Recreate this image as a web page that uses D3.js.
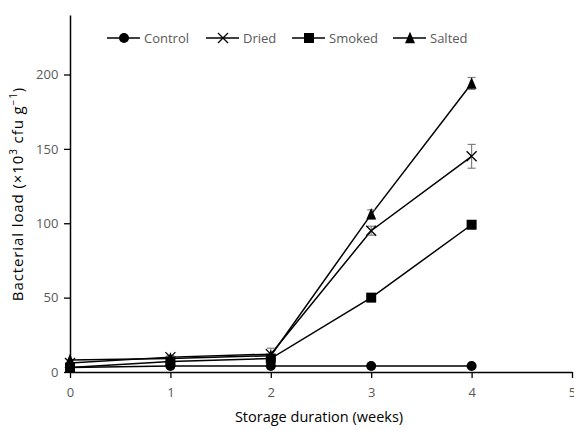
<!DOCTYPE html>
<html>
<head>
<meta charset="utf-8">
<script src="https://cdn.jsdelivr.net/npm/d3@7"></script>
<style>
  body { margin: 0; background: #fff; }
  svg { display: block; font-family: "Open Sans", sans-serif; }
</style>
</head>
<body>
<svg id="chart" width="574" height="430"></svg>
<script>
// data
const weeks = [0, 1, 2, 3, 4];
const seriesNames = ["Control", "Dried", "Smoked", "Salted"];
const controlVals = [3, 4, 4, 4, 4];
const driedVals = [6, 10, 12, 95, 145];
const smokedVals = [3, 7, 9, 50, 99];
const saltedVals = [8, 9, 11, 106, 194];
const driedErr = [0, 1, 4, 3, 8];
const saltedErr = [0, 1, 1, 3, 4];
const zeroErr = [0, 0, 0, 0, 0];
const xTicks = [0, 1, 2, 3, 4, 5];
const yTicks = [0, 50, 100, 150, 200];

const series = [
  {name: "Control", vals: controlVals, err: zeroErr, sym: "circle"},
  {name: "Dried", vals: driedVals, err: driedErr, sym: "cross"},
  {name: "Smoked", vals: smokedVals, err: zeroErr, sym: "square"},
  {name: "Salted", vals: saltedVals, err: saltedErr, sym: "triangle"}
];

const svg = d3.select("#chart");
const mLeft = 70, mRight = 572, mTop = 15, mBottom = 372;

const x = d3.scaleLinear().domain([0, 5]).range([mLeft, mRight]);
const y = d3.scaleLinear().domain([0, 240]).range([mBottom, mTop]);

// axes
const xAxis = svg.append("g")
    .attr("transform", `translate(0,${mBottom})`)
    .call(d3.axisBottom(x).tickValues(xTicks).tickFormat(d3.format("d")).tickSize(6).tickSizeOuter(0));
const yAxis = svg.append("g")
    .attr("transform", `translate(${mLeft},0)`)
    .call(d3.axisLeft(y).tickValues(yTicks).tickFormat(d3.format("d")).tickSize(6).tickSizeOuter(0));

[xAxis, yAxis].forEach(a => {
    a.select(".domain").attr("stroke", "#000").attr("stroke-width", 1.5);
    a.selectAll(".tick line").attr("stroke", "#000").attr("stroke-width", 1.3);
    a.selectAll(".tick text").attr("fill", "#595959")
        .attr("font-size", 13).attr("font-family", "Open Sans, sans-serif");
});
xAxis.selectAll(".tick text").attr("dy", "1.2em");
yAxis.selectAll(".tick text").attr("dx", "-0.2em");

function drawMarker(g, sym, cx, cy, size) {
    if (sym === "circle") {
        g.append("circle").attr("cx", cx).attr("cy", cy).attr("r", size * 0.5).attr("fill", "#000");
    } else if (sym === "square") {
        g.append("rect").attr("x", cx - size / 2).attr("y", cy - size / 2)
            .attr("width", size).attr("height", size).attr("fill", "#000");
    } else if (sym === "triangle") {
        const h = size * 1.05;
        g.append("path")
            .attr("d", `M${cx},${cy - h / 2 - 1}L${cx + size / 2},${cy + h / 2}L${cx - size / 2},${cy + h / 2}Z`)
            .attr("fill", "#000");
    } else if (sym === "cross") {
        const s = size / 2;
        g.append("path")
            .attr("d", `M${cx - s},${cy - s}L${cx + s},${cy + s}M${cx - s},${cy + s}L${cx + s},${cy - s}`)
            .attr("stroke", "#000").attr("stroke-width", 1.3).attr("fill", "none");
    }
}

const line = d3.line().x((d, i) => x(weeks[i])).y(d => y(d));
const plot = svg.append("g");

series.forEach(s => {
    plot.append("path")
        .datum(s.vals)
        .attr("d", line)
        .attr("fill", "none")
        .attr("stroke", "#000")
        .attr("stroke-width", 1.5);
});

// error bars
series.forEach(s => {
    s.vals.forEach((v, i) => {
        const e = s.err[i];
        if (!e) return;
        const cx = x(weeks[i]);
        const g = plot.append("g").attr("stroke", "#7f7f7f").attr("stroke-width", 1.2);
        g.append("line").attr("x1", cx).attr("x2", cx).attr("y1", y(v - e)).attr("y2", y(v + e));
        g.append("line").attr("x1", cx - 4).attr("x2", cx + 4).attr("y1", y(v + e)).attr("y2", y(v + e));
        g.append("line").attr("x1", cx - 4).attr("x2", cx + 4).attr("y1", y(v - e)).attr("y2", y(v - e));
    });
});

series.forEach(s => {
    s.vals.forEach((v, i) => drawMarker(plot, s.sym, x(weeks[i]), y(v), 10));
});

// legend
const legendX = [107, 206, 292, 393];
const legendY = 38;
series.forEach((s, i) => {
    const lg = svg.append("g");
    const x0 = legendX[i];
    lg.append("line").attr("x1", x0).attr("x2", x0 + 33).attr("y1", legendY).attr("y2", legendY)
        .attr("stroke", "#000").attr("stroke-width", 1.5);
    drawMarker(lg, s.sym, x0 + 17, legendY, 10);
    lg.append("text").attr("x", x0 + 37).attr("y", legendY).attr("dy", "0.35em")
        .attr("fill", "#595959").attr("font-size", 13).text(seriesNames[i]);
});

// axis titles
svg.append("text")
    .attr("x", (mLeft + mRight) / 2 - 2).attr("y", 422)
    .attr("text-anchor", "middle").attr("font-size", 14.5).attr("fill", "#000")
    .text("Storage duration (weeks)");

svg.append("text")
    .attr("transform", `translate(23,194) rotate(-90)`)
    .attr("text-anchor", "middle").attr("font-size", 15).attr("letter-spacing", 0.9).attr("fill", "#000")
    .html('Bacterial load (×10<tspan dy="-6" font-size="10">3</tspan><tspan dy="6"> cfu g</tspan><tspan dy="-6" font-size="10">−1</tspan><tspan dy="6">)</tspan>');
</script>
</body>
</html>
